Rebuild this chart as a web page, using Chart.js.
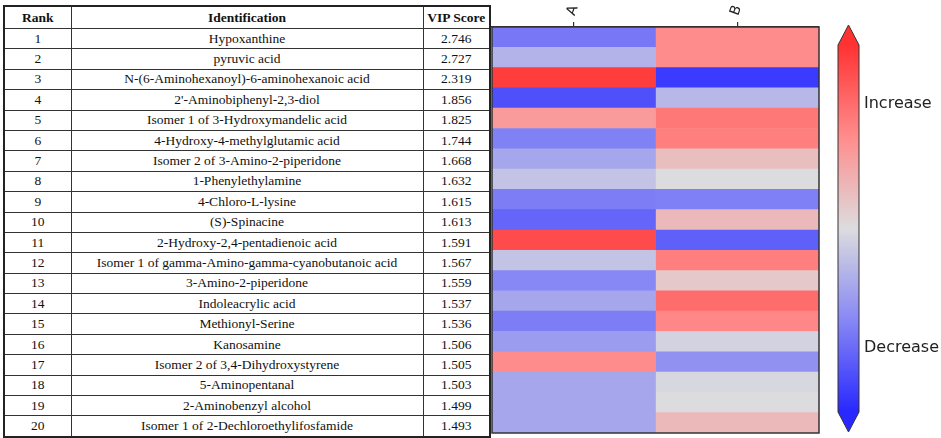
<!DOCTYPE html>
<html>
<head>
<meta charset="utf-8">
<script src="https://cdn.jsdelivr.net/npm/chart.js@4.4.1/dist/chart.umd.min.js"></script>
<style>
  html, body { margin: 0; padding: 0; background: #fff; }
  body { width: 941px; height: 438px; position: relative; overflow: hidden; }
  #vipTable {
    position: absolute; left: 3px; top: 5px; width: 486px;
    border-collapse: collapse; table-layout: fixed;
    border: 2px solid #222;
  }
  #vipTable th, #vipTable td {
    border: 1px solid #333; text-align: center; padding: 0;
    font-family: "Liberation Serif", "Times New Roman", serif; font-size: 13.5px; color: #111;
  }
  #vipTable th { height: 21px; font-weight: bold; }
  #vipTable td { height: 19.4px; }
  #heatWrap { position: absolute; left: 480px; top: 0; width: 461px; height: 438px; }
  .cbLabel { position: absolute; left: 864px; font-family: "DejaVu Sans", sans-serif; font-size: 16px; color: #222; line-height: 18px; }
</style>
</head>
<body>
<table id="vipTable">
  <colgroup><col style="width:67px"><col style="width:352px"><col style="width:67px"></colgroup>
  <thead><tr><th>Rank</th><th>Identification</th><th>VIP Score</th></tr></thead>
  <tbody id="vipBody"></tbody>
</table>
<div id="heatWrap"><canvas id="heatmap"></canvas></div>
<div class="cbLabel" style="top:94px">Increase</div>
<div class="cbLabel" style="top:338px">Decrease</div>
<script>
const ranks = ['1','2','3','4','5','6','7','8','9','10','11','12','13','14','15','16','17','18','19','20'];
const names = [
  'Hypoxanthine',
  'pyruvic acid',
  'N-(6-Aminohexanoyl)-6-aminohexanoic acid',
  "2'-Aminobiphenyl-2,3-diol",
  'Isomer 1 of 3-Hydroxymandelic acid',
  '4-Hydroxy-4-methylglutamic acid',
  'Isomer 2 of 3-Amino-2-piperidone',
  '1-Phenylethylamine',
  '4-Chloro-L-lysine',
  '(S)-Spinacine',
  '2-Hydroxy-2,4-pentadienoic acid',
  'Isomer 1 of gamma-Amino-gamma-cyanobutanoic acid',
  '3-Amino-2-piperidone',
  'Indoleacrylic acid',
  'Methionyl-Serine',
  'Kanosamine',
  'Isomer 2 of 3,4-Dihydroxystyrene',
  '5-Aminopentanal',
  '2-Aminobenzyl alcohol',
  'Isomer 1 of 2-Dechloroethylifosfamide'
];
const vipScores = ['2.746','2.727','2.319','1.856','1.825','1.744','1.668','1.632','1.615','1.613',
                   '1.591','1.567','1.559','1.537','1.536','1.506','1.505','1.503','1.499','1.493'];

const groups = ['A', 'B'];
// relative change, -1 (decrease) .. 1 (increase)
const scoresA = [-0.58, -0.24, 0.94, -0.79, 0.41, -0.53, -0.32, -0.15, -0.55, -0.68,
                 0.86, -0.15, -0.5, -0.32, -0.55, -0.38, 0.5, -0.32, -0.32, -0.32];
const scoresB = [0.5, 0.5, -0.9, -0.21, 0.61, 0.58, 0.19, 0.0, -0.54, 0.22,
                 -0.71, 0.57, 0.125, 0.68, 0.53, -0.06, -0.44, -0.03, 0.0, 0.22];

// fill the table
const tbody = document.getElementById('vipBody');
ranks.forEach((r, i) => {
  const tr = document.createElement('tr');
  tr.innerHTML = `<td>${r}</td><td>${names[i]}</td><td>${vipScores[i]}</td>`;
  tbody.appendChild(tr);
});

// blue - grey - red colormap
const cmap = [
  [-1, [40, 40, 255]],
  [-0.5, [135, 135, 245]],
  [0, [220, 220, 222]],
  [0.5, [255, 140, 140]],
  [1, [255, 50, 50]]
];
function colorFor(v) {
  v = Math.max(-1, Math.min(1, v));
  for (let k = 0; k < cmap.length - 1; k++) {
    const [v0, c0] = cmap[k], [v1, c1] = cmap[k + 1];
    if (v <= v1) {
      const t = (v - v0) / (v1 - v0);
      const c = c0.map((x, j) => Math.round(x + (c1[j] - x) * t));
      return `rgb(${c[0]},${c[1]},${c[2]})`;
    }
  }
  return 'rgb(255,50,50)';
}

const frameAndBar = {
  id: 'frameAndBar',
  afterDraw(chart) {
    const { ctx, chartArea: a } = chart;
    ctx.save();
    ctx.strokeStyle = '#333';
    ctx.lineWidth = 1.5;
    ctx.strokeRect(a.left, a.top, a.right - a.left, a.bottom - a.top);

    // colour bar with arrow ends
    const x0 = a.right + 19, x1 = x0 + 21, xm = (x0 + x1) / 2;
    const tipTop = a.top - 2, rTop = a.top + 18, rBot = a.bottom - 21, tipBot = a.bottom - 1;
    const grad = ctx.createLinearGradient(0, rTop, 0, rBot);
    for (let s = 0; s <= 20; s++) grad.addColorStop(s / 20, colorFor(1 - s / 10));
    ctx.beginPath();
    ctx.moveTo(xm, tipTop);
    ctx.lineTo(x1, rTop);
    ctx.lineTo(x1, rBot);
    ctx.lineTo(xm, tipBot);
    ctx.lineTo(x0, rBot);
    ctx.lineTo(x0, rTop);
    ctx.closePath();
    ctx.fillStyle = grad;
    ctx.fill();
    ctx.lineWidth = 1;
    ctx.strokeStyle = '#333';
    ctx.stroke();
    ctx.restore();
  }
};

new Chart(document.getElementById('heatmap'), {
  type: 'bar',
  data: {
    labels: ranks,
    datasets: [
      { label: groups[0], data: scoresA.map(() => [0, 1]), backgroundColor: scoresA.map(colorFor) },
      { label: groups[1], data: scoresB.map(() => [1, 2]), backgroundColor: scoresB.map(colorFor) }
    ]
  },
  options: {
    indexAxis: 'y',
    responsive: true,
    maintainAspectRatio: false,
    animation: false,
    grouped: false,
    categoryPercentage: 1,
    barPercentage: 1,
    borderWidth: 0,
    layout: { padding: { left: 12, right: 122, top: 0, bottom: 5 } },
    plugins: { legend: { display: false }, tooltip: { enabled: false } },
    scales: {
      y: { type: 'category', display: false },
      x: {
        type: 'linear',
        position: 'top',
        min: 0,
        max: 2,
        afterBuildTicks: scale => { scale.ticks = groups.map((g, i) => ({ value: i + 0.5 })); },
        afterFit: scale => { scale.height = 27; },
        grid: { drawOnChartArea: false, drawTicks: true, tickLength: 5, color: '#333', lineWidth: 1.2 },
        border: { display: true, color: '#333', width: 1.5 },
        ticks: {
          callback: v => groups[Math.floor(v)],
          font: { family: 'DejaVu Sans', size: 14 },
          color: '#222',
          minRotation: 70,
          maxRotation: 70,
          padding: 4,
          labelOffset: 13
        }
      }
    }
  },
  plugins: [frameAndBar]
});
</script>
</body>
</html>
